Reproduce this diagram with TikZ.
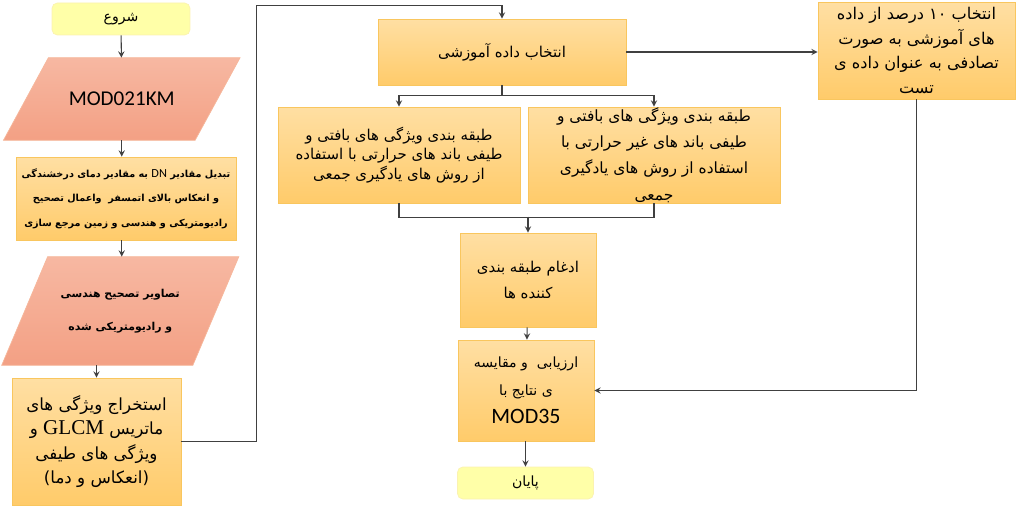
\documentclass[tikz,border=0pt]{standalone}
\usepackage{fontspec}
\usepackage{tikz}
\usetikzlibrary{arrows, calc, backgrounds}
\TeXXeTstate=1
\newfontfamily\fafont[Script=Arabic]{DejaVu Sans}
\newfontfamily\latfont{Carlito}
\newfontfamily\serfont{Liberation Serif}
\newcommand{\fal}[1]{\beginR #1\endR}
\newcommand{\enl}[1]{\beginL #1\endL}
\definecolor{boxtop}{HTML}{FFDFA3}
\definecolor{boxbot}{HTML}{FFCB6A}
\definecolor{boxline}{HTML}{F9C65E}
\definecolor{paratop}{HTML}{F7B8A2}
\definecolor{parabot}{HTML}{F3A084}
\definecolor{paraline}{HTML}{F6B89C}
\definecolor{termfill}{HTML}{FFFFA8}
\definecolor{termline}{HTML}{FBF2B0}
\definecolor{wire}{HTML}{404040}

\begin{document}
\begin{tikzpicture}[x=0.02cm, y=-0.02cm,
    box/.style={draw=boxline, top color=boxtop, bottom color=boxbot, align=center, inner sep=2pt,
      font=\fafont\fontsize{8.5}{11.3}\selectfont},
    term/.style={draw=termline, fill=termfill, rounded corners=3pt, minimum width=2.72cm, minimum height=0.64cm,
      font=\fafont\fontsize{8}{10}\selectfont},
    parabody/.style={align=center, inner sep=0pt},
    parafill/.style={draw=paraline, top color=paratop, bottom color=parabot},
    wire/.style={color=wire, line width=0.6pt}]
  \useasboundingbox (0,0) rectangle (1024,513);

  \node[term, minimum width=2.76cm] (start) at (121,19) {\fal{شروع}};
  \node[parabody, minimum width=3.82cm, minimum height=1.64cm, font=\latfont\fontsize{12}{14}\selectfont]
    (mod) at (121.75,99) {MOD021KM};
  \node[box, minimum width=4.4cm, minimum height=1.66cm, font=\fafont\bfseries\fontsize{5.5}{14}\selectfont] (conv) at (126,198.5)
    {\fal{تبدیل مقادیر \enl{{\latfont\mdseries\fontsize{7}{14}\selectfont DN}} به مقادیر دمای درخشندگی}\\
     \fal{و انعکاس بالای اتمسفر\ \ واعمال تصحیح}\\
     \fal{رادیومتریکی و هندسی و زمین مرجع سازی}};
  \node[parabody, minimum width=3.81cm, minimum height=2.16cm, font=\fafont\bfseries\fontsize{6.2}{19}\selectfont]
    (geo) at (120.25,311) {\fal{تصاویر تصحیح هندسی}\\ \fal{و رادیومتریکی شده}};
  \node[box, minimum width=3.38cm, minimum height=2.54cm, font=\fafont\fontsize{9.5}{14}\selectfont] (feat) at (96.5,441.5)
    {\fal{استخراج ویژگی های}\\ \fal{ماتریس \enl{{\serfont\fontsize{12}{14}\selectfont GLCM}} و}\\
     \fal{ویژگی های طیفی}\\ \fal{(انعکاس و دما)}};

  \node[box, minimum width=4.96cm, minimum height=1.32cm] (train) at (502,52) {\fal{انتخاب داده آموزشی}};
  \node[box, minimum width=4.84cm, minimum height=1.92cm] (cls1) at (399,155)
    {\fal{طبقه بندی ویژگی های بافتی و}\\ \fal{طیفی باند های حرارتی با استفاده}\\
     \fal{از روش های یادگیری جمعی}};
  \node[box, minimum width=5.04cm, minimum height=1.92cm, inner ysep=-6pt, font=\fafont\fontsize{8.8}{15}\selectfont] (cls2) at (654,155)
    {\fal{طبقه بندی ویژگی های بافتی و}\\ \fal{طیفی باند های غیر حرارتی با}\\
     \fal{استفاده از روش های یادگیری}\\ \fal{جمعی}};
  \node[box, minimum width=2.72cm, minimum height=1.88cm, font=\fafont\fontsize{8.5}{15}\selectfont] (merge) at (528,280)
    {\fal{ادغام طبقه بندی}\\ \fal{کننده ها}};
  \node[box, minimum width=2.72cm, minimum height=2.02cm, font=\fafont\fontsize{8}{16}\selectfont] (eval) at (526,390.5)
    {\fal{ارزیابی\ \ و مقایسه}\\ \fal{ی نتایج با}\\ {\latfont\fontsize{12.5}{16}\selectfont MOD35}};
  \node[term] (end) at (525.5,483) {\fal{پایان}};
  \node[box, minimum width=3.94cm, minimum height=1.94cm, font=\fafont\fontsize{9.2}{14}\selectfont] (test) at (916.5,50.5)
    {\fal{انتخاب ۱۰ درصد از داده}\\ \fal{های آموزشی به صورت}\\ \fal{تصادفی به عنوان داده ی}\\ \fal{تست}};

  \begin{scope}[on background layer]
    \foreach \n/\s in {mod/22.5, geo/23}
      \path[parafill] ($(\n.north west)+(\s,0)$) -- ($(\n.north east)+(\s,0)$)
        -- ($(\n.south east)+(-\s,0)$) -- ($(\n.south west)+(-\s,0)$) -- cycle;
  \end{scope}

  \path[wire, -stealth]
    (start) edge (mod)
    (mod.south) edge (mod.south |- conv.north)
    (conv.south -| mod.south) edge (geo.north -| mod.south)
    (feat.north |- geo.south) edge (feat.north)
    (merge) edge (eval)
    (eval.south -| end.north) edge (end.north)
    (train.east) edge (train.east -| test.west);
  \draw[wire, -stealth] (feat.east) -- ++(75,0) |- ($(train.north)+(0,-13)$) -- (train.north);
  \draw[wire] (train.south) -- ++(0,10) coordinate (split);
  \draw[wire, -stealth] (split) -| (cls1.north);
  \draw[wire, -stealth] (split) -| (cls2.north);
  \draw[wire] (cls1.south) |- ($(cls2.south)+(0,14)$) -- (cls2.south);
  \draw[wire, -stealth] ($(merge.north)+(0,-16)$) -- (merge.north);
  \draw[wire, -stealth] (test.south) |- (eval.east);
\end{tikzpicture}
\end{document}
